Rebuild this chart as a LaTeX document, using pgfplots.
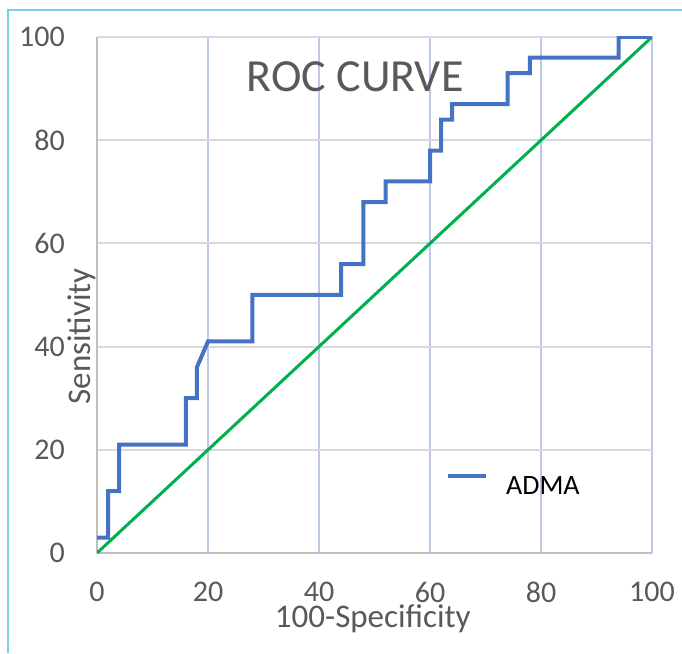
\documentclass[border=0pt]{standalone}
\usepackage{fontspec}
\setmainfont{Carlito}
\usepackage{pgfplots}
\pgfplotsset{compat=1.18}
\definecolor{admablue}{HTML}{4472C4}
\definecolor{refgreen}{HTML}{00B050}
\definecolor{ticktext}{HTML}{595959}
\definecolor{vgrid}{HTML}{BCC8E4}
\definecolor{hgrid}{HTML}{D9D9D9}
\definecolor{axisgray}{HTML}{BFBFBF}
\definecolor{frameblue}{HTML}{7ACFEA}

\begin{document}
\begin{tikzpicture}[x=1pt,y=1pt]
\begin{axis}[
  at={(97pt,100pt)}, anchor=south west,
  scale only axis, width=555pt, height=516pt,
  xmin=0, xmax=100, ymin=0, ymax=100,
  xtick={0,20,...,100}, ytick={0,20,...,100},
  axis x line*=bottom, axis y line*=left,
  axis line style={draw=axisgray, line width=2pt, -},
  major tick length=0pt,
  grid=major,
  x grid style={draw=vgrid, line width=2pt},
  y grid style={draw=hgrid, line width=2pt},
  /pgf/number format/assume math mode=true,
  tick label style={font=\fontsize{30}{34}\selectfont, text=ticktext, inner sep=0pt},
  yticklabel style={anchor=east, xshift=-32pt},
  xticklabel style={anchor=north, yshift=-29pt},
  xlabel={100-Specificity},
  ylabel={Sensitivity},
  label style={font=\fontsize{33}{36}\selectfont, text=ticktext, inner sep=0pt},
  xlabel style={at={(axis description cs:0.497,0)}, anchor=north, yshift=-51pt},
  ylabel style={at={(axis description cs:-0.027,0.42)}, anchor=center},
  legend style={at={(axis cs:62.9,15.3)}, anchor=north west, draw=none, fill=none,
    inner sep=0pt, outer sep=0pt, font=\fontsize{28}{30}\selectfont, text=black,
    nodes={inner sep=0pt},
    /tikz/every odd column/.append style={column sep=18pt}},
  legend image code/.code={\draw[#1] (0pt,10pt) -- (38pt,10pt);},
]
\addplot[refgreen, line width=3pt, forget plot] coordinates {(0,0) (100,100)};
\addplot[admablue, line width=4pt] coordinates {
  (0,3) (2,3) (2,12) (4,12) (4,21) (16,21) (16,30) (18,30) (18,36) (20,41)
  (28,41) (28,50) (44,50) (44,56) (48,56) (48,68) (52,68) (52,72) (60,72)
  (60,78) (62,78) (62,84) (64,84) (64,87) (74,87) (74,93) (78,93) (78,96)
  (94,96) (94,100) (100,100)
};
\addlegendentry{ADMA}
\node[font=\fontsize{46}{50}\selectfont, text=ticktext, inner sep=0pt, anchor=center]
  at (axis cs:46.5,92.2) {ROC CURVE};
\end{axis}
\draw[frameblue, line width=2pt] (8pt,0pt) -- (8pt,643pt) -- (682pt,643pt);
\pgfresetboundingbox
\useasboundingbox (0pt,0pt) rectangle (682pt,653pt);
\end{tikzpicture}
\end{document}
